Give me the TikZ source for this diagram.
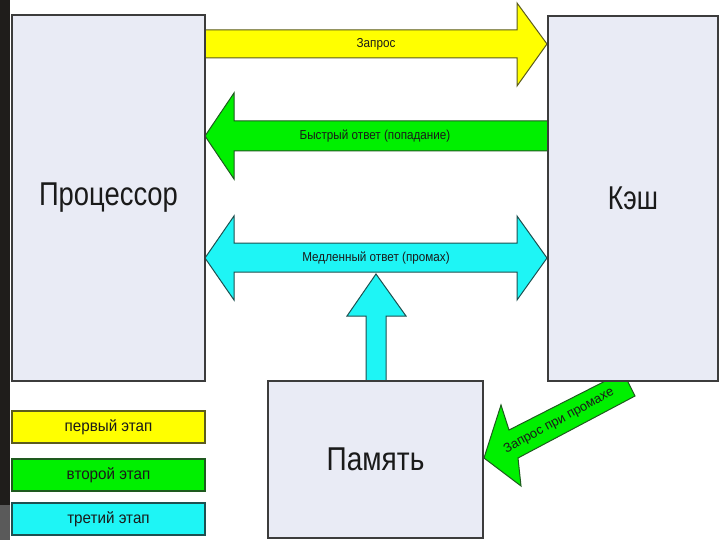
\documentclass[tikz,border=0pt]{standalone}
\usepackage{fontspec}
\setmainfont{Liberation Sans}
\definecolor{boxfill}{HTML}{E9EBF5}
\definecolor{boxline}{HTML}{3C3C3C}
\definecolor{yel}{HTML}{FFFF00}
\definecolor{yelline}{HTML}{5C5C1E}
\definecolor{grn}{HTML}{00F000}
\definecolor{grnline}{HTML}{1E5A1E}
\definecolor{cya}{HTML}{1EF5F5}
\definecolor{cyaline}{HTML}{1E5050}
\definecolor{txt}{HTML}{1A1A1A}
\definecolor{strip}{HTML}{1F1D1B}
\definecolor{stripgray}{HTML}{5A5A5A}
\tikzset{
  blockbox/.style={draw=boxline, fill=boxfill, line width=1.6pt, inner sep=0pt, text=txt,
    font=\fontsize{33}{33}\selectfont},
  legendbox/.style={line width=1.2pt, inner sep=0pt, minimum width=193pt, minimum height=32pt,
    text=txt, font=\fontsize{16}{16}\selectfont},
  arrowlabel/.style={text=txt, inner sep=0pt, font=\fontsize{13}{13}\selectfont},
  yelarrow/.style={fill=yel, draw=yelline, line width=1pt, line join=miter},
  grnarrow/.style={fill=grn, draw=grnline, line width=1pt, line join=miter},
  cyaarrow/.style={fill=cya, draw=cyaline, line width=1pt, line join=miter},
}
\begin{document}
\begin{tikzpicture}[x=1pt, y=-1pt]
\useasboundingbox (0,0) rectangle (720,540);
\fill[white] (0,0) rectangle (720,540);
% left strip
\fill[strip] (0,0) rectangle (10,540);
\fill[stripgray] (0,505) rectangle (10,540);

% legend
\node[legendbox, fill=yel, draw=yelline] (l1) at (108.5,427) {\scalebox{0.95}[1]{первый этап}};
\node[legendbox, fill=grn, draw=grnline] (l2) at (108.5,475) {\scalebox{0.95}[1]{второй этап}};
\node[legendbox, fill=cya, draw=cyaline] (l3) at (108.5,519) {\scalebox{0.95}[1]{третий этап}};

% yellow arrow (request)
\draw[yelarrow] (205,30) -- (517,30) -- (517,3) -- (547,44) -- (517,86) -- (517,58) -- (205,58) -- cycle;
\node[arrowlabel] (t1) at (376,44) {\scalebox{0.9}[1]{Запрос}};

% green arrow (fast answer)
\draw[grnarrow] (547,121) -- (234,121) -- (234,93) -- (205,136) -- (234,179) -- (234,151) -- (547,151);
\node[arrowlabel] (t2) at (375,136) {\scalebox{0.9}[1]{Быстрый ответ (попадание)}};

% cyan double arrow (slow answer)
\draw[cyaarrow] (205,258) -- (234,216) -- (234,243) -- (517,243) -- (517,216) -- (547,258)
  -- (517,300) -- (517,272) -- (234,272) -- (234,300) -- cycle;
\node[arrowlabel] (t3) at (376,258) {\scalebox{0.9}[1]{Медленный ответ (промах)}};

% cyan up arrow from memory
\draw[cyaarrow] (366,381) -- (366,316) -- (347,316) -- (376,274) -- (406,316) -- (386,316) -- (386,381) -- cycle;

% green diagonal arrow (request on miss)
\draw[grnarrow] (623,372) -- (509,430) -- (501,405) -- (484,458) -- (521,486) -- (518,458) -- (635,396) -- cycle;
\node[arrowlabel, rotate=28.5] (t4) at (559,421) {Запрос при промахе};

% boxes
\node[blockbox, minimum width=193pt, minimum height=366pt] (proc) at (108.5,198) {\scalebox{0.83}[1]{Процессор}};
\node[blockbox, minimum width=170pt, minimum height=365pt] (cache) at (633,198.5) {\scalebox{0.8}[1]{Кэш}};
\node[blockbox, minimum width=215pt, minimum height=157pt] (mem) at (375.5,459.5) {\scalebox{0.85}[1]{Память}};
\end{tikzpicture}
\end{document}
